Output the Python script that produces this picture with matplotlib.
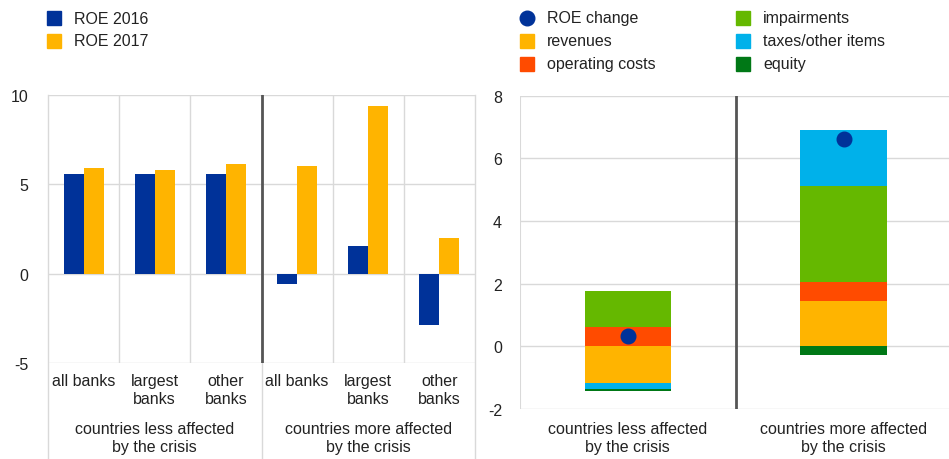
import numpy as np
import matplotlib
matplotlib.use('Agg')
import matplotlib.pyplot as plt
from matplotlib.patches import Rectangle
from matplotlib.lines import Line2D

plt.rcParams['font.family'] = ['Liberation Sans', 'DejaVu Sans']
plt.rcParams['font.size'] = 11.5
plt.rcParams['axes.unicode_minus'] = False

# data - left panel (ROE by bank group, %)
sub_labels = ['all banks', 'largest\nbanks', 'other\nbanks', 'all banks', 'largest\nbanks', 'other\nbanks']
group_labels = ['countries less affected\nby the crisis', 'countries more affected\nby the crisis']
roe_2016 = [5.6, 5.6, 5.6, -0.58, 1.55, -2.88]
roe_2017 = [5.9, 5.78, 6.12, 6.05, 9.4, 1.97]

# data - right panel (ROE change decomposition, pp)
regions = ['countries less affected\nby the crisis', 'countries more affected\nby the crisis']
comp_names = ['revenues', 'operating costs', 'impairments', 'taxes/other items', 'equity']
revenues = [-1.16, 1.45]
operating_costs = [0.61, 0.60]
impairments = [1.15, 3.06]
taxes_other = [-0.19, 1.78]
equity = [-0.08, -0.27]
roe_change = [0.32, 6.63]

BLUE = '#003299'
YELLOW = '#FFB400'
ORANGE = '#FF4B00'
GREEN = '#65B800'
LBLUE = '#00B1EA'
DGREEN = '#007816'
GRID = '#d9d9d9'
TXT = '#222222'
comp_colors = [YELLOW, ORANGE, GREEN, LBLUE, DGREEN]

fig = plt.figure(figsize=(9.49, 4.60), dpi=100)

# ---------------- left panel
ax1 = fig.add_axes([48/949, 96/460, 427/949, 268/460])
x = np.arange(6) + 0.5
w = 0.28
ax1.bar(x - w/2, roe_2016, w, color=BLUE, zorder=3)
ax1.bar(x + w/2, roe_2017, w, color=YELLOW, zorder=3)
ax1.set_xlim(0, 6)
ax1.set_ylim(-5, 10)
ax1.set_yticks([-5, 0, 5, 10])
for y in [-5, 0, 5, 10]:
    ax1.axhline(y, color=GRID, lw=1, zorder=1)
for xv in [1, 2, 4, 5]:
    ax1.axvline(xv, color=GRID, lw=1, zorder=1)
trans = ax1.get_xaxis_transform()
for xv in [0, 3, 6]:
    ax1.plot([xv, xv], [-0.36, 1], color=GRID, lw=1, transform=trans, clip_on=False, zorder=1)
ax1.axvline(3, color='#555555', lw=2, zorder=4)
ax1.set_xticks(x)
ax1.set_xticklabels(sub_labels, color=TXT, linespacing=1.28)
for i, g in enumerate(group_labels):
    ax1.text(1.5 + 3*i, -0.215, g, transform=trans, ha='center', va='top',
             color=TXT, linespacing=1.28)
ax1.tick_params(axis='both', length=0, colors=TXT)
ax1.tick_params(axis='y', pad=14)
ax1.tick_params(axis='x', pad=7)
for s in ax1.spines.values():
    s.set_visible(False)

# ---------------- right panel
ax2 = fig.add_axes([520/949, 50/460, 431.4/949, 313.3/460])
xr = np.arange(2)
bw = 0.4
comps = [revenues, operating_costs, impairments, taxes_other, equity]
pos = np.zeros(2)
neg = np.zeros(2)
for vals, col in zip(comps, comp_colors):
    vals = np.array(vals)
    bottoms = np.where(vals >= 0, pos, neg)
    ax2.bar(xr, vals, bw, bottom=bottoms, color=col, zorder=3)
    pos = pos + np.where(vals >= 0, vals, 0)
    neg = neg + np.where(vals < 0, vals, 0)
ax2.plot(xr, roe_change, 'o', color=BLUE, ms=10.5, zorder=5, ls='none')
ax2.set_xlim(-0.5, 1.5)
ax2.set_ylim(-2, 8)
ax2.set_yticks(range(-2, 9, 2))
for y in range(-2, 9, 2):
    ax2.axhline(y, color=GRID, lw=1, zorder=1)
ax2.axvline(-0.5, color=GRID, lw=1.5, zorder=1)
ax2.axvline(0.5, color='#555555', lw=2, zorder=4)
ax2.set_xticks(xr)
ax2.set_xticklabels(regions, color=TXT, linespacing=1.25)
ax2.tick_params(axis='both', length=0, colors=TXT)
ax2.tick_params(axis='y', pad=13)
ax2.tick_params(axis='x', pad=9)
for s in ax2.spines.values():
    s.set_visible(False)

# ---------------- legends
def sq(px, py, color, label, tx):
    fig.add_artist(Rectangle((px/949, 1 - (py + 7)/460), 14/949, 14/460,
                             color=color, transform=fig.transFigure))
    fig.text(tx/949, 1 - py/460, label, va='center', ha='left', color=TXT)

sq(47, 19, BLUE, 'ROE 2016', 74)
sq(47, 42, YELLOW, 'ROE 2017', 74)

fig.add_artist(Line2D([527/949], [1 - 19/460], marker='o', ms=10.5, color=BLUE,
                      ls='none', transform=fig.transFigure))
fig.text(547/949, 1 - 19/460, 'ROE change', va='center', ha='left', color=TXT)
sq(520, 42, comp_colors[0], comp_names[0], 547)
sq(520, 65, comp_colors[1], comp_names[1], 547)
sq(736, 19, comp_colors[2], comp_names[2], 763)
sq(736, 42, comp_colors[3], comp_names[3], 763)
sq(736, 65, comp_colors[4], comp_names[4], 763)

fig.savefig('out.png', dpi=100)
